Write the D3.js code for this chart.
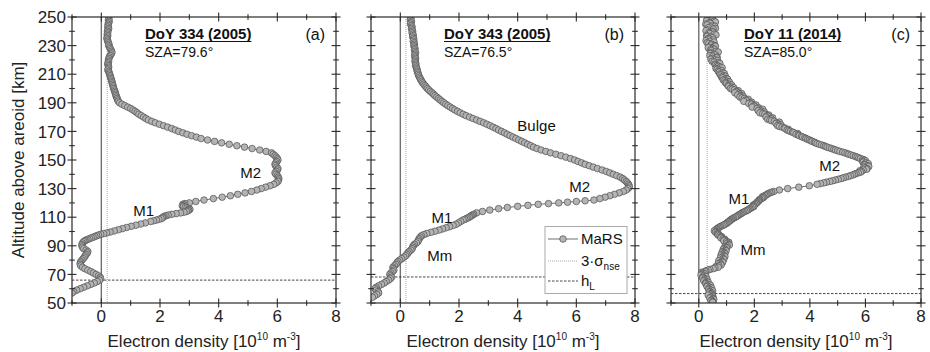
<!DOCTYPE html>
<html><head><meta charset="utf-8">
<script src="https://cdn.jsdelivr.net/npm/d3@7"></script>
<style>body{margin:0;background:#fff}svg{display:block;font-family:"Liberation Sans",Arial,sans-serif}</style>
</head><body><svg id="c" width="930" height="352"></svg>
<script>
// ---------- data ----------
const xTickValues = [-1,0,1,2,3,4,5,6,7,8];
const xTickLabels = [0,2,4,6,8];
const yTickValues = [50,60,70,80,90,100,110,120,130,140,150,160,170,180,190,200,210,220,230,240,250];
const yTickLabels = [50,70,90,110,130,150,170,190,210,230,250];

const titles = ["DoY 334 (2005)","DoY 343 (2005)","DoY 11 (2014)"];
const szaLabels = ["SZA=79.6°","SZA=76.5°","SZA=85.0°"];
const letters = ["(a)","(b)","(c)"];
const sigmaNoise = [0.2,0.19,0.3];   // 3·sigma_nse [1e10 m^-3]
const hL = [66,68.2,56.6];           // km

const labelsA = [["M2",4.74,137.3],["M1",1.09,110.7]];
const labelsB = [["Bulge",3.99,170.2],["M2",5.76,127.5],["M1",1.06,105.8],["Mm",0.92,79.5]];
const labelsC = [["M2",4.34,142.2],["M1",1.07,119.1],["Mm",1.5,83.4]];

// [altitude km, electron density 1e10 m^-3]
const profileA = [[249,0.26],[248,0.24],[247,0.27],[246,0.25],[245,0.23],[244,0.24],[243,0.22],[242,0.25],[241,0.23],[240,0.21],
[239,0.22],[238,0.2],[237,0.22],[236,0.2],[235,0.19],[234,0.21],[233,0.22],[232,0.24],[231,0.26],[230,0.25],
[229,0.28],[228,0.3],[227,0.33],[226,0.35],[225,0.36],[224,0.33],[223,0.3],[222,0.27],[221,0.26],[220,0.24],
[219,0.25],[218,0.23],[217,0.22],[216,0.24],[215,0.25],[214,0.24],[213,0.22],[212,0.25],[211,0.27],[210,0.28],
[209,0.3],[208,0.31],[207,0.33],[206,0.34],[205,0.36],[204,0.37],[203,0.38],[202,0.4],[201,0.41],[200,0.42],
[199,0.44],[198,0.46],[197,0.47],[196,0.49],[195,0.5],[194,0.52],[193,0.54],[192,0.56],[191,0.58],[190,0.62],
[189,0.7],[188,0.8],[187,0.9],[186,1.0],[185,1.08],[184,1.15],[183,1.22],[182,1.28],[181,1.36],[180,1.44],
[179,1.52],[178,1.6],[177,1.72],[176,1.84],[175,1.98],[174,2.12],[173,2.26],[172,2.4],[171,2.52],[170,2.64],
[169,2.78],[168,2.92],[167,3.08],[166,3.24],[165,3.4],[164,3.62],[163,3.86],[162,4.1],[161,4.36],[160,4.62],
[159,4.88],[158,5.14],[157,5.4],[156,5.62],[155,5.8],[154,5.86],[153,5.92],[152,5.96],[151,6.0],[150,6.02],
[149,5.98],[148,5.95],[147,5.92],[146,5.94],[145,5.98],[144,6.02],[143,6.0],[142,5.96],[141,5.92],[140,5.95],
[139,6.0],[138,6.03],[137,6.05],[136,6.04],[135,6.02],[134,5.96],[133,5.88],[132,5.75],[131,5.6],[130,5.45],
[129,5.3],[128,5.12],[127,4.9],[126,4.65],[125,4.4],[124,4.12],[123,3.82],[122,3.5],[121,3.22],[120,3.0],
[119.5,2.85],[119,2.78],[118.5,2.82],[118,2.76],[117.5,2.8],[117,2.86],[116.5,2.92],[116,2.98],[115.5,3.02],[115,2.98],
[114.5,2.95],[114,2.9],[113.5,2.82],[113,2.7],[112.5,2.55],[112,2.4],[111.5,2.28],[111,2.2],[110.5,2.14],[110,2.1],
[109.5,2.08],[109,2.04],[108.5,1.96],[108,1.88],[107.5,1.78],[107,1.68],[106,1.5],[105.2,1.34],[104.4,1.18],[103.6,1.02],
[102.8,0.86],[102,0.72],[101.2,0.58],[100.4,0.44],[99.6,0.3],[99,0.18],[98.5,0.08],[98,-0.02],[97.5,-0.1],[97,-0.16],
[96.5,-0.22],[96,-0.28],[95.5,-0.34],[95,-0.4],[94.5,-0.46],[94,-0.52],[93.5,-0.56],[93,-0.6],[92,-0.64],[91,-0.66],
[90,-0.66],[89,-0.64],[88,-0.6],[87,-0.52],[86,-0.46],[85,-0.48],[84,-0.52],[83,-0.55],[82,-0.58],[81,-0.62],
[80,-0.66],[79,-0.7],[78,-0.72],[77,-0.72],[76,-0.7],[75,-0.64],[74,-0.56],[73,-0.46],[72,-0.36],[71,-0.27],
[70,-0.18],[69,-0.1],[68,-0.04],[67,-0.02],[66,-0.06],[65,-0.14],[64,-0.24],[63,-0.36],[62,-0.48],[61,-0.6],
[60,-0.72],[59,-0.84],[58,-0.94],[57,-1.0]];

const profileB = [[249,0.36],[248,0.34],[247,0.38],[246,0.36],[245,0.35],[244,0.38],[243,0.4],[242,0.38],[241,0.4],[240,0.42],
[239,0.4],[238,0.43],[237,0.44],[236,0.42],[235,0.45],[234,0.46],[233,0.44],[232,0.47],[231,0.48],[230,0.46],
[229,0.48],[228,0.5],[227,0.48],[226,0.5],[225,0.52],[224,0.5],[223,0.49],[222,0.5],[221,0.52],[220,0.51],
[219,0.5],[218,0.52],[217,0.53],[216,0.52],[215,0.54],[214,0.56],[213,0.57],[212,0.58],[211,0.6],[210,0.61],
[209,0.63],[208,0.65],[207,0.68],[206,0.7],[205,0.73],[204,0.76],[203,0.8],[202,0.84],[201,0.88],[200,0.92],
[199,0.97],[198,1.02],[197,1.08],[196,1.13],[195,1.18],[194,1.24],[193,1.3],[192,1.36],[191,1.42],[190,1.48],
[189,1.55],[188,1.62],[187,1.7],[186,1.78],[185,1.86],[184,1.95],[183,2.04],[182,2.14],[181,2.24],[180,2.36],
[179,2.48],[178,2.6],[177,2.72],[176,2.84],[175,2.95],[174,3.06],[173,3.16],[172,3.26],[171,3.35],[170,3.45],
[169,3.55],[168,3.64],[167,3.74],[166,3.84],[165,3.94],[164,4.04],[163,4.14],[162,4.24],[161,4.34],[160,4.44],
[159,4.54],[158,4.66],[157,4.8],[156,4.96],[155,5.12],[154,5.3],[153,5.48],[152,5.64],[151,5.8],[150,5.94],
[149,6.06],[148,6.18],[147,6.3],[146,6.44],[145,6.58],[144,6.72],[143,6.88],[142,7.02],[141,7.14],[140,7.26],
[139,7.38],[138,7.5],[137,7.58],[136,7.64],[135,7.7],[134,7.74],[133,7.78],[132,7.8],[131,7.8],[130,7.76],
[129,7.7],[128,7.6],[127,7.46],[126,7.3],[125,7.14],[124,6.98],[123,6.8],[122,6.6],[121.5,6.3],[121,6.0],
[120.5,5.7],[120,5.4],[119.5,5.05],[119,4.7],[118.3,4.35],[117.6,4.0],[116.8,3.65],[116,3.35],[115,3.05],[114,2.8],
[113,2.6],[112,2.5],[111.5,2.46],[111,2.42],[110.5,2.38],[110,2.35],[109.5,2.3],[109,2.25],[108.5,2.2],[108,2.14],
[107,2.06],[106,1.98],[105,1.9],[104.2,1.8],[103.4,1.68],[102.6,1.56],[101.8,1.44],[101,1.32],[100.2,1.18],[99.4,1.04],
[98.6,0.9],[97.8,0.8],[97,0.72],[96,0.68],[95,0.64],[94,0.62],[93,0.6],[92,0.55],[91,0.48],[90,0.44],
[89,0.42],[88,0.4],[87,0.36],[86,0.3],[85,0.26],[84,0.22],[83,0.18],[82,0.12],[81,0.05],[80,-0.02],
[79,-0.08],[78,-0.12],[77,-0.15],[76,-0.2],[75,-0.25],[74,-0.24],[73,-0.22],[72,-0.26],[71,-0.32],[70,-0.36],
[69,-0.33],[68,-0.3],[67,-0.34],[66,-0.4],[65,-0.48],[64,-0.55],[63,-0.64],[62,-0.74],[61,-0.82],[60,-0.86],
[59,-0.82],[58,-0.76],[57,-0.74],[56,-0.8],[55,-0.88],[54,-0.95]];

// panel (c): samples at whole km
const profileC1 = [[249,0.45],[248,0.3],[247,0.55],[246,0.38],[245,0.25],[244,0.5],[243,0.42],[242,0.6],[241,0.32],[240,0.48],
[239,0.36],[238,0.55],[237,0.28],[236,0.44],[235,0.34],[234,0.52],[233,0.4],[232,0.3],[231,0.46],[230,0.58],
[229,0.38],[228,0.5],[227,0.42],[226,0.62],[225,0.45],[224,0.55],[223,0.4],[222,0.66],[221,0.5],[220,0.6],
[219,0.48],[218,0.72],[217,0.58],[216,0.66],[215,0.78],[214,0.62],[213,0.74],[212,0.7],[211,0.86],[210,0.76],
[209,0.9],[208,0.82],[207,0.98],[206,0.88],[205,1.02],[204,0.96],[203,1.1],[202,1.05],[201,1.2],[200,1.14],
[199,1.28],[198,1.36],[197,1.3],[196,1.46],[195,1.52],[194,1.48],[193,1.64],[192,1.7],[191,1.62],[190,1.84],
[189,1.9],[188,1.98],[187,1.92],[186,2.1],[185,2.18],[184,2.26],[183,2.2],[182,2.38],[181,2.46],[180,2.42],
[179,2.6],[178,2.56],[177,2.72],[176,2.8],[175,2.88],[174,2.84],[173,3.0],[172,3.1],[171,3.18],[170,3.3],
[169,3.42],[168,3.5],[167,3.62],[166,3.74],[165,3.86],[164,3.98],[163,4.08],[162,4.2],[161,4.34],[160,4.5],
[159,4.62],[158,4.78],[157,4.92],[156,5.08],[155,5.26],[154,5.4],[153,5.56],[152,5.7],[151,5.82],[150,5.96],
[149,5.9],[148,6.02],[147,5.96],[146,6.08],[145,5.94],[144,6.06],[143,5.92],[142,5.86],[141,5.74],[140,5.6],
[139,5.46],[138,5.28],[137,5.12],[136,4.92],[135,4.72],[134,4.5],[133,4.26],[132,3.98],[131,3.6],[130,3.2],
[129,2.9],[128,2.7],[127,2.56],[126,2.46],[125,2.38],[124,2.34],[123,2.26],[122,2.18],[121,2.14],[120,2.08],
[119,2.02],[118,1.98],[117,1.94],[116,1.84],[115,1.76],[114,1.66],[113,1.56],[112,1.48],[111,1.4],[110,1.32],
[109,1.22],[108,1.14],[107,1.08],[106,1.02],[105,0.94],[104,0.84],[103,0.74],[102,0.66],[101,0.6],[100,0.62],
[99,0.66],[98,0.68],[97,0.76],[96,0.8],[95,0.88],[94,0.92],[93,1.0],[92,1.04],[91,1.08],[90,1.02],
[89,0.98],[88,0.92],[87,0.96],[86,0.88],[85,0.92],[84,0.86],[83,0.9],[82,0.84],[81,0.88],[80,0.8],
[79,0.84],[78,0.76],[77,0.8],[76,0.72],[75,0.7],[74,0.52],[73,0.34],[72,0.22],[71,0.14],[70,0.12],
[69,0.18],[68,0.14],[67,0.22],[66,0.2],[65,0.28],[64,0.24],[63,0.34],[62,0.3],[61,0.4],[60,0.36],
[59,0.44],[58,0.4],[57,0.48],[56,0.42],[55,0.5],[54,0.44],[53,0.52],[52,0.46],[51,0.5]];

// panel (c): samples at half km
const profileC2 = [[249.5,0.35],[248.5,0.5],[247.5,0.28],[246.5,0.6],[245.5,0.42],[244.5,0.3],[243.5,0.58],[242.5,0.35],[241.5,0.52],[240.5,0.26],
[239.5,0.5],[238.5,0.4],[237.5,0.62],[236.5,0.3],[235.5,0.5],[234.5,0.38],[233.5,0.26],[232.5,0.55],[231.5,0.36],[230.5,0.44],
[229.5,0.6],[228.5,0.34],[227.5,0.56],[226.5,0.46],[225.5,0.7],[224.5,0.42],[223.5,0.6],[222.5,0.5],[221.5,0.64],[220.5,0.44],
[219.5,0.68],[218.5,0.55],[217.5,0.76],[216.5,0.6],[215.5,0.7],[214.5,0.84],[213.5,0.66],[212.5,0.82],[211.5,0.74],[210.5,0.92],
[209.5,0.8],[208.5,0.96],[207.5,0.86],[206.5,1.04],[205.5,0.94],[204.5,1.1],[203.5,1.0],[202.5,1.18],[201.5,1.08],[200.5,1.26],
[199.5,1.2],[198.5,1.42],[197.5,1.36],[196.5,1.54],[195.5,1.4],[194.5,1.6],[193.5,1.56],[192.5,1.78],[191.5,1.72],[190.5,1.9],
[189.5,1.8],[188.5,2.06],[187.5,2.0],[186.5,2.16],[185.5,2.3],[184.5,2.14],[183.5,2.36],[182.5,2.3],[181.5,2.52],[180.5,2.5],
[179.5,2.66],[178.5,2.48],[177.5,2.62],[176.5,2.9],[175.5,2.78],[174.5,2.96],[173.5,2.9],[172.5,3.08],[171.5,3.22],[170.5,3.24],
[169.5,3.38],[168.5,3.56],[167.5,3.58],[166.5,3.7],[165.5,3.82],[164.5,3.92],[163.5,4.04],[162.5,4.16],[161.5,4.26],[160.5,4.42],
[159.5,4.56],[158.5,4.7],[157.5,4.86],[156.5,5.0],[155.5,5.18],[154.5,5.34],[153.5,5.48],[152.5,5.64],[151.5,5.76],[150.5,5.9],
[149.5,6.0],[148.5,5.92],[147.5,6.1],[146.5,5.98],[145.5,6.12],[144.5,5.98],[143.5,6.04],[142.5,5.8],[141.5,5.82],[140.5,5.66],
[139.5,5.54],[138.5,5.38],[137.5,5.2],[136.5,5.02],[135.5,4.82],[134.5,4.6],[133.5,4.38],
[127.5,2.62],[126.5,2.5],[125.5,2.42],[124.5,2.3],[123.5,2.3],[122.5,2.2],[121.5,2.16],[120.5,2.1],[119.5,2.06],[118.5,1.96],
[117.5,1.98],[116.5,1.88],[115.5,1.8],[114.5,1.72],[113.5,1.6],[112.5,1.52],[111.5,1.44],[110.5,1.36],[109.5,1.26],[108.5,1.18],
[107.5,1.12],[106.5,1.06],[105.5,0.98],[104.5,0.9],[103.5,0.78],[102.5,0.7],[101.5,0.64],[100.5,0.56],[99.5,0.6],[98.5,0.7],
[97.5,0.7],[96.5,0.82],[95.5,0.8],[94.5,0.94],[93.5,0.9],[92.5,1.08],[91.5,1.0],[90.5,1.1],[89.5,0.94],[88.5,1.0],
[87.5,0.88],[86.5,0.98],[85.5,0.84],[84.5,0.94],[83.5,0.8],[82.5,0.94],[81.5,0.78],[80.5,0.9],[79.5,0.72],[78.5,0.86],
[77.5,0.7],[76.5,0.8],[75.5,0.62],[74.5,0.58],[73.5,0.4],[72.5,0.26],[71.5,0.1],[70.5,0.2],[69.5,0.08],[68.5,0.26],
[67.5,0.14],[66.5,0.3],[65.5,0.18],[64.5,0.34],[63.5,0.26],[62.5,0.42],[61.5,0.3],[60.5,0.46],[59.5,0.36],[58.5,0.5],
[57.5,0.38],[56.5,0.44],[55.5,0.34],[54.5,0.5],[53.5,0.4],[52.5,0.54],[51.5,0.44],[50.5,0.5]];

const profileC = profileC1.concat(profileC2).sort((a, b) => b[0] - a[0]);
const profiles = [profileA, profileB, profileC];
const annotations = [labelsA, labelsB, labelsC];
const legendItems = ["MaRS","3·σ","h"];

// ---------- layout ----------
const svg = d3.select("#c");
const plotTop = 17, plotBottom = 303;
const panelX = [[72,336],[371,635],[671,921]];
const axisColor = "#2a2a2a";
const fontMain = 17;

const y = d3.scaleLinear().domain([50,250]).range([plotBottom, plotTop]);

panelX.forEach((px, i) => {
  const x = d3.scaleLinear().domain([-1,8]).range(px);
  const g = svg.append("g");
  const clipId = "clip" + i;
  svg.append("clipPath").attr("id", clipId).append("rect")
    .attr("x", px[0]).attr("y", plotTop).attr("width", px[1]-px[0]).attr("height", plotBottom-plotTop);

  const inner = g.append("g").attr("clip-path", `url(#${clipId})`);
  inner.append("line").attr("x1", x(0)).attr("x2", x(0)).attr("y1", plotTop).attr("y2", plotBottom)
    .attr("stroke", "#707070").attr("stroke-width", 1.4);
  inner.append("line").attr("x1", x(sigmaNoise[i])).attr("x2", x(sigmaNoise[i])).attr("y1", plotTop).attr("y2", plotBottom)
    .attr("stroke", "#a8a8a8").attr("stroke-width", 1).attr("stroke-dasharray", "1,1");
  inner.append("line").attr("x1", px[0]).attr("x2", px[1]).attr("y1", y(hL[i])).attr("y2", y(hL[i]))
    .attr("stroke", "#333").attr("stroke-width", 0.9).attr("stroke-dasharray", "2.5,1.5");

  const data = profiles[i];
  const line = d3.line().x(d => x(d[1])).y(d => y(d[0]));
  inner.append("path").datum(data).attr("d", line).attr("fill", "none")
    .attr("stroke", "#4a4a4a").attr("stroke-width", 0.8);
  inner.selectAll("circle.pt").data(data).join("circle").attr("class","pt")
    .attr("cx", d => x(d[1])).attr("cy", d => y(d[0])).attr("r", 3.3)
    .attr("fill", "#b4b4b4").attr("stroke", "#4d4d4d").attr("stroke-width", 0.7);

  g.append("rect").attr("x", px[0]).attr("y", plotTop).attr("width", px[1]-px[0]).attr("height", plotBottom-plotTop)
    .attr("fill", "none").attr("stroke", axisColor).attr("stroke-width", 1.2);

  const tk = g.append("g").attr("stroke", axisColor).attr("stroke-width", 1.1);
  xTickValues.forEach(v => {
    const major = xTickLabels.includes(v);
    const L = major ? 4.5 : 2.8;
    [plotBottom, plotTop].forEach(yy => {
      tk.append("line").attr("x1", x(v)).attr("x2", x(v)).attr("y1", yy - L).attr("y2", yy + L);
    });
  });
  yTickValues.forEach(v => {
    const major = yTickLabels.includes(v);
    const L = major ? 4.5 : 2.8;
    [px[0], px[1]].forEach(xx => {
      tk.append("line").attr("x1", xx - L).attr("x2", xx + L).attr("y1", y(v)).attr("y2", y(v));
    });
  });

  g.selectAll("text.xt").data(xTickLabels).join("text").attr("class","xt")
    .attr("x", d => x(d)).attr("y", 322).attr("text-anchor","middle")
    .attr("font-size", fontMain).attr("fill", "#222").text(d => d);
  if (i === 0) {
    g.selectAll("text.yt").data(yTickLabels).join("text").attr("class","yt")
      .attr("x", px[0] - 6).attr("y", d => y(d)).attr("dy", "0.36em").attr("text-anchor","end")
      .attr("font-size", fontMain).attr("fill", "#222").text(d => d);
  }

  const xt = g.append("text").attr("x", (px[0]+px[1])/2).attr("y", 347).attr("text-anchor","middle")
    .attr("font-size", fontMain).attr("fill", "#222");
  xt.append("tspan").text("Electron density [10");
  xt.append("tspan").attr("font-size", 10).attr("dy", -7).text("10");
  xt.append("tspan").attr("dy", 7).text(" m");
  xt.append("tspan").attr("font-size", 10).attr("dy", -7).text("-3");
  xt.append("tspan").attr("dy", 7).text("]");

  const tx = px[0] + 73;
  const tt = g.append("text").attr("x", tx).attr("y", 39).attr("font-size", 15).attr("font-weight","bold")
    .attr("fill", "#111").text(titles[i]);
  const tw = tt.node().getComputedTextLength();
  g.append("line").attr("x1", tx).attr("x2", tx + tw).attr("y1", 41.5).attr("y2", 41.5)
    .attr("stroke", "#111").attr("stroke-width", 1.2);
  g.append("text").attr("x", tx).attr("y", 57).attr("font-size", 14).attr("fill", "#111").text(szaLabels[i]);
  g.append("text").attr("x", px[1] - 11).attr("y", 40).attr("text-anchor","end").attr("font-size", 16)
    .attr("fill", "#111").text(letters[i]);

  g.selectAll("text.ann").data(annotations[i]).join("text").attr("class","ann")
    .attr("x", d => x(d[1])).attr("y", d => y(d[2])).attr("font-size", 15).attr("fill", "#111")
    .text(d => d[0]);

  if (i === 1) {
    const lg = g.append("g");
    lg.append("rect").attr("x", 545).attr("y", 226.5).attr("width", 82).attr("height", 67)
      .attr("fill", "#fff").attr("stroke", "#aaa").attr("stroke-width", 1);
    const rows = [239, 261, 281];
    lg.append("line").attr("x1", 548).attr("x2", 578).attr("y1", rows[0]).attr("y2", rows[0])
      .attr("stroke", "#4a4a4a").attr("stroke-width", 0.8);
    lg.append("circle").attr("cx", 563).attr("cy", rows[0]).attr("r", 3.3)
      .attr("fill", "#b4b4b4").attr("stroke", "#4d4d4d").attr("stroke-width", 0.7);
    lg.append("line").attr("x1", 548).attr("x2", 578).attr("y1", rows[1]).attr("y2", rows[1])
      .attr("stroke", "#a8a8a8").attr("stroke-width", 1).attr("stroke-dasharray", "1,1");
    lg.append("line").attr("x1", 548).attr("x2", 578).attr("y1", rows[2]).attr("y2", rows[2])
      .attr("stroke", "#333").attr("stroke-width", 0.9).attr("stroke-dasharray", "2.5,1.5");
    lg.append("text").attr("x", 581).attr("y", rows[0]).attr("dy","0.36em").attr("font-size", 15)
      .attr("fill","#111").text(legendItems[0]);
    const t2 = lg.append("text").attr("x", 581).attr("y", rows[1]).attr("dy","0.36em").attr("font-size", 15).attr("fill","#111");
    t2.append("tspan").text(legendItems[1]);
    t2.append("tspan").attr("font-size", 10).attr("dy", 4).text("nse");
    const t3 = lg.append("text").attr("x", 581).attr("y", rows[2]).attr("dy","0.36em").attr("font-size", 15).attr("fill","#111");
    t3.append("tspan").text(legendItems[2]);
    t3.append("tspan").attr("font-size", 10).attr("dy", 4).text("L");
  }
});

svg.append("text").attr("transform", `translate(24,${(plotTop+plotBottom)/2}) rotate(-90)`)
  .attr("text-anchor","middle").attr("font-size", fontMain).attr("fill","#222")
  .text("Altitude above areoid [km]");
</script></body></html>
